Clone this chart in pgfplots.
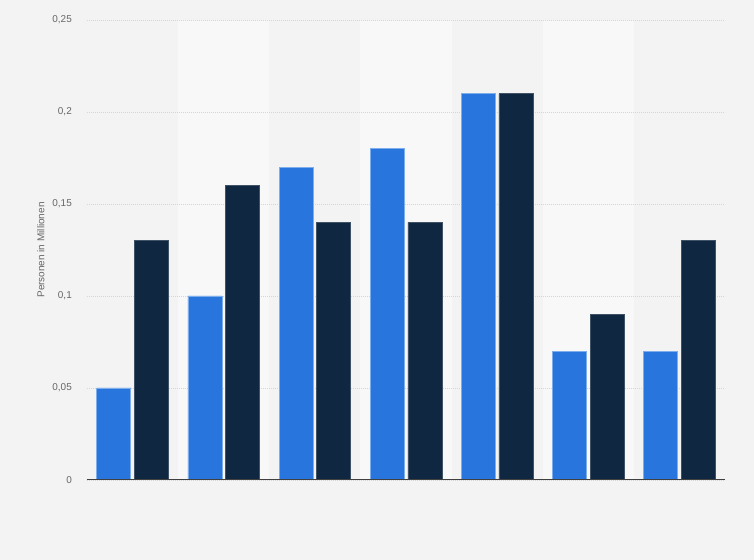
\documentclass[border=0pt]{standalone}
\usepackage{pgfplots}
\pgfplotsset{compat=1.18}
\usepackage{fontspec}
\setmainfont{Liberation Sans}

\definecolor{bg}{HTML}{F3F3F3}
\definecolor{band}{HTML}{F8F8F8}
\definecolor{barblue}{HTML}{2876DD}
\definecolor{bardark}{HTML}{0F2740}
\definecolor{txt}{HTML}{666666}

\begin{document}
\begin{tikzpicture}
% page background and alternating column bands (axis box is 638bp x 460bp at the origin)
\fill[bg] (-87bp,-80bp) rectangle (667bp,480bp);
\foreach \k in {1,3,5} {
  \fill[band] ({\k*638/7*1bp},0) rectangle ({(\k+1)*638/7*1bp},460bp);
}
\begin{axis}[
    at={(0,0)}, anchor=south west,
    scale only axis,
    width=638bp, height=460bp,
    xmin=-0.5, xmax=6.5,
    ymin=0, ymax=0.25,
    xtick=\empty,
    ytick={0,0.05,0.1,0.15,0.2,0.25},
    yticklabels={0,{0,05},{0,1},{0,15},{0,2},{0,25}},
    major tick length=0pt,
    axis line style={draw=none},
    ymajorgrids,
    grid style={dash pattern=on 1bp off 1bp, color=black!16, line width=0.8bp},
    yticklabel style={font=\fontsize{10}{12}\selectfont, text=txt, inner sep=0pt, xshift=-15bp},
    ylabel={Personen in Millionen},
    ylabel style={at={(axis description cs:-0.0724,0.5)}, anchor=center, font=\fontsize{10}{12}\selectfont, text=txt},
    ybar,
    bar width=34bp,
]
\addplot[fill=barblue, draw=barblue!60!white, line width=0.6bp, bar shift=-18.8bp] coordinates {
    (0,0.05) (1,0.10) (2,0.17) (3,0.18) (4,0.21) (5,0.07) (6,0.07)
};
\addplot[fill=bardark, draw=bardark!80!white, line width=0.6bp, bar shift=18.8bp] coordinates {
    (0,0.13) (1,0.16) (2,0.14) (3,0.14) (4,0.21) (5,0.09) (6,0.13)
};
\draw[color=black!75, line width=1.2bp] (axis cs:-0.5,0) -- (axis cs:6.5,0);
\end{axis}
\end{tikzpicture}
\end{document}
